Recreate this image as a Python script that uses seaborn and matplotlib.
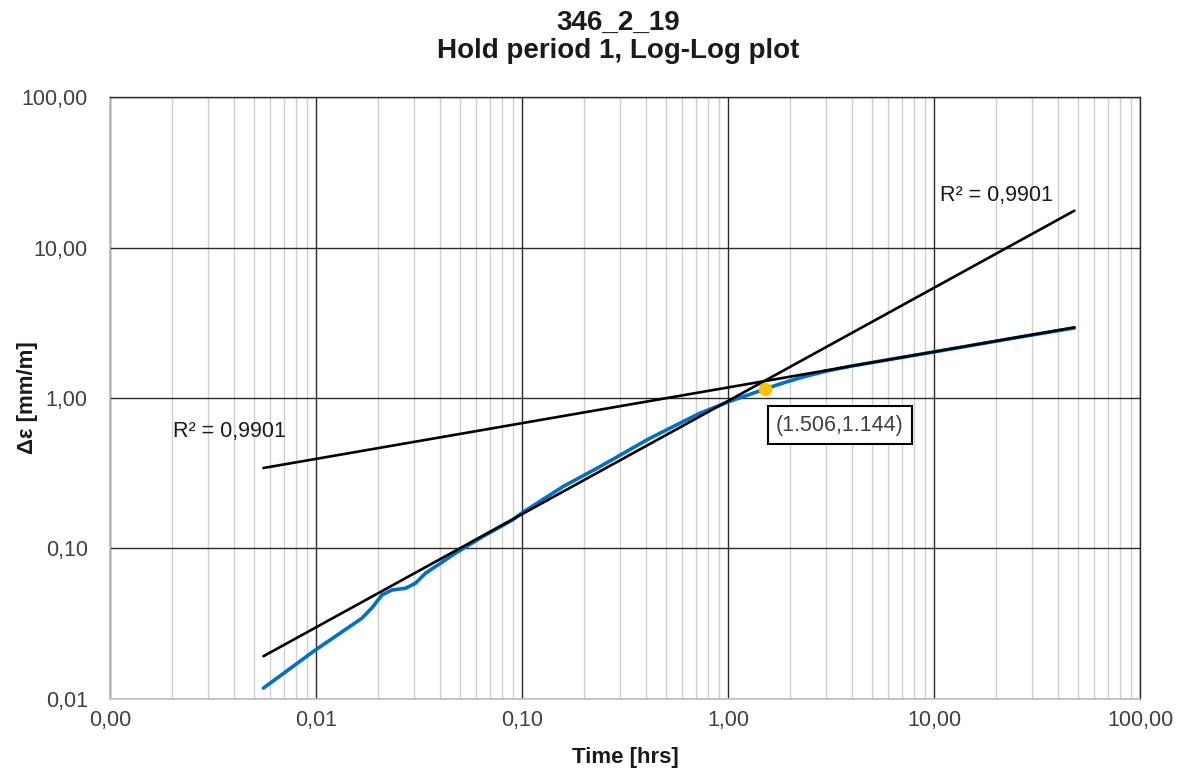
import numpy as np
import pandas as pd
import matplotlib
matplotlib.use("Agg")
import matplotlib.pyplot as plt
import seaborn as sns
from matplotlib.ticker import FixedLocator, FixedFormatter, LogLocator, NullFormatter

# Measured creep curve during hold period 1
time_hrs = [0.00556, 0.00991, 0.0167, 0.0188, 0.0209, 0.0234, 0.0272, 0.0304,
            0.0340, 0.0475, 0.0641, 0.0897, 0.100, 0.158, 0.237, 0.415, 0.726,
            1.016, 1.506, 1.730, 1.986, 2.388, 3.006, 3.98, 10.0, 25.1, 48.0]
strain_mm_m = [0.01175, 0.0210, 0.0342, 0.0405, 0.0489, 0.0528, 0.0542, 0.0585,
               0.0682, 0.0927, 0.119, 0.154, 0.172, 0.257, 0.347, 0.537, 0.789,
               0.948, 1.144, 1.221, 1.297, 1.396, 1.510, 1.632, 2.025, 2.520, 2.925]

# Power-law trendlines y = a * t^b
fit_primary = {"a": 0.955, "b": 0.753}
fit_secondary = {"a": 1.175, "b": 0.2376}
r2_labels = ["R² = 0,9901", "R² = 0,9901"]

# Transition point
point_t = 1.506
point_eps = 1.144

x_ticks = [0.001, 0.01, 0.1, 1, 10, 100]
x_tick_labels = ["0,00", "0,01", "0,10", "1,00", "10,00", "100,00"]
y_ticks = [0.01, 0.1, 1, 10, 100]
y_tick_labels = ["0,01", "0,10", "1,00", "10,00", "100,00"]

sns.set_theme(style="white")
plt.rcParams["font.family"] = ["Liberation Sans", "DejaVu Sans"]

fig = plt.figure(figsize=(11.81, 7.71), dpi=100)
ax = fig.add_axes([0.0931, 0.0939, 0.9653 - 0.0931, 0.8737 - 0.0939])

curve = pd.DataFrame({"t": time_hrs, "eps": strain_mm_m})
t_line = np.array([min(time_hrs), max(time_hrs)])
fit1 = pd.DataFrame({"t": t_line, "eps": fit_primary["a"] * t_line ** fit_primary["b"]})
fit2 = pd.DataFrame({"t": t_line, "eps": fit_secondary["a"] * t_line ** fit_secondary["b"]})

sns.lineplot(data=curve, x="t", y="eps", ax=ax, color="#0070C0", linewidth=2.6,
             estimator=None, sort=False, zorder=3)
sns.lineplot(data=fit1, x="t", y="eps", ax=ax, color="black", linewidth=1.9,
             estimator=None, zorder=4)
sns.lineplot(data=fit2, x="t", y="eps", ax=ax, color="black", linewidth=1.9,
             estimator=None, zorder=4)
ax.scatter([point_t], [point_eps], s=95, color="#FFC000", zorder=6, linewidths=0)

ax.set_xscale("log")
ax.set_yscale("log")
ax.set_xlim(0.001, 100)
ax.set_ylim(0.01, 100)

ax.xaxis.set_major_locator(FixedLocator(x_ticks))
ax.xaxis.set_major_formatter(FixedFormatter(x_tick_labels))
ax.yaxis.set_major_locator(FixedLocator(y_ticks))
ax.yaxis.set_major_formatter(FixedFormatter(y_tick_labels))
ax.xaxis.set_minor_locator(LogLocator(base=10, subs=np.arange(2, 10)))
ax.yaxis.set_minor_locator(LogLocator(base=10, subs=np.arange(2, 10)))
ax.xaxis.set_minor_formatter(NullFormatter())
ax.yaxis.set_minor_formatter(NullFormatter())

ax.grid(which="major", color="#2b2b2b", linewidth=1.0)
ax.grid(which="minor", axis="x", color="#d0d0d0", linewidth=1.0)
ax.set_axisbelow(True)

ax.tick_params(which="both", length=0)
ax.tick_params(axis="x", labelsize=15.5, pad=8)
ax.tick_params(axis="y", labelsize=15.5, pad=16)
for lab in ax.get_xticklabels() + ax.get_yticklabels():
    lab.set_color("#404040")

for side in ["top", "right"]:
    ax.spines[side].set_color("#2b2b2b")
    ax.spines[side].set_linewidth(1.0)
for side in ["left", "bottom"]:
    ax.spines[side].set_color("#bfbfbf")
    ax.spines[side].set_linewidth(1.2)

ax.set_xlabel("")
ax.set_ylabel("")

ax.text(0.00203, 0.594, r2_labels[0], fontsize=15.5, ha="left", va="center", color="#1a1a1a")
ax.text(10.7, 22.4, r2_labels[1], fontsize=15.5, ha="left", va="center", color="#1a1a1a")

ax.text(3.49, 0.661, f"({point_t},{point_eps})", fontsize=15.5, ha="center", va="center",
        color="#404040",
        bbox=dict(boxstyle="square,pad=0.38", facecolor="white", edgecolor="black",
                  linewidth=1.5), zorder=7)

fig.text(0.5235, 1 - 30 / 771, "346_2_19", fontsize=20, fontweight="bold",
         ha="center", va="baseline", color="#1a1a1a")
fig.text(0.5235, 1 - 58 / 771, "Hold period 1, Log-Log plot", fontsize=20,
         fontweight="bold", ha="center", va="baseline", color="#1a1a1a")

fig.text(625 / 1181, 1 - 758 / 771, "Time [hrs]", fontsize=16, fontweight="bold",
         ha="center", va="center", color="#1a1a1a")
fig.text(28 / 1181, 1 - 398 / 771, "Δε [mm/m]", fontsize=16, fontweight="bold",
         ha="center", va="center", rotation=90, color="#1a1a1a")

fig.savefig("out.png", dpi=100, facecolor="white")
